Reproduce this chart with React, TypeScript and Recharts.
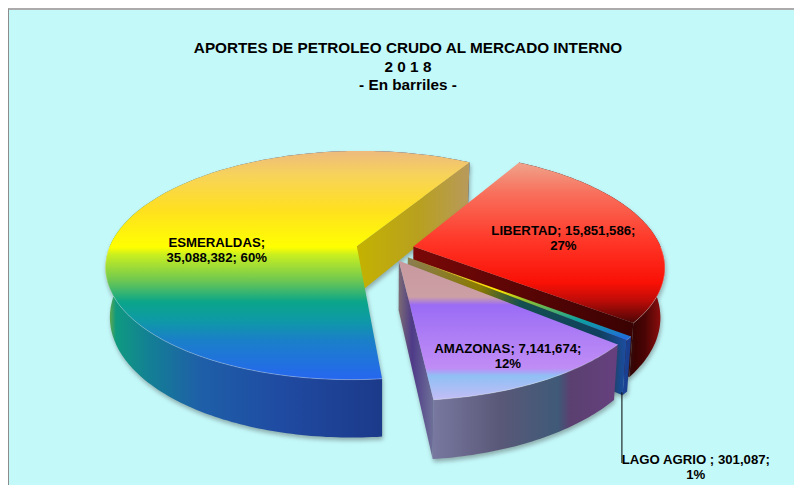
import React from "react";
import { PieChart, Pie } from "recharts";

const categories = ["ESMERALDAS", "LIBERTAD", "LAGO AGRIO ", "AMAZONAS"];
const barrels = [35088382, 15851586, 301087, 7141674];
const percents = ["60%", "27%", "1%", "12%"];

const W = 794;
const H = 485;
const CX = 385;
const CY = 249;
const RADIUS = 248;
const SQUASH = 0.452; // vertical squash of the disc
const PERSP = 0.167; // near edge looks bigger than far edge
const DEPTH = 48.5; // thickness of the pie
const CONVERGE = 0.016;
const EXPLODE = 0.117;

// colour stops are [screen y or x, colour]
const topStops: [number, string][][] = [
    [[150, "#EDB97F"], [175, "#F7D35A"], [210, "#FFE020"], [247, "#FFFF00"], [255, "#C8EE20"], [280, "#70C850"], [302, "#0AA58A"], [320, "#0E9AA5"], [340, "#1A80C8"], [380, "#2666F0"]],
    [[161, "#EFA68E"], [193, "#F8705C"], [243, "#FF3526"], [283, "#F91005"], [300, "#C00C08"], [323, "#4A0606"]],
    [[257, "#A89A5A"], [290, "#FFE800"], [300, "#90C030"], [320, "#0FA0A0"], [340, "#2266E0"]],
    [[262, "#C89AA0"], [297, "#CC9FA5"], [305, "#9A6CF5"], [340, "#B080F5"], [368, "#C08CF5"], [376, "#90C0F5"], [402, "#C8BDF5"]],
];
const wallStops: [number, string][][] = [
    [[106, "#8FB030"], [116, "#0F9A80"], [150, "#137F95"], [200, "#1E5FA8"], [280, "#1F4BA2"], [380, "#1C3A8A"]],
    [[625, "#2A0202"], [645, "#4A0404"], [664, "#9A1010"]],
    [[612, "#1E4FA5"], [630, "#1A3C8C"]],
    [[433, "#7878A0"], [500, "#5A5878"], [558, "#3F5A78"], [570, "#5A4070"], [616, "#66407E"]],
];
const cutStops: [number, string][][] = [
    [[357, "#C4B200"], [420, "#B8A020"], [468, "#B89A5A"]],
    [[414, "#7A0808"], [632, "#3A0202"]],
    [[408, "#8C7E50"], [480, "#8A7A00"], [520, "#145050"], [600, "#0F4060"], [630, "#1F4FA8"]],
    [[399, "#7A6A74"], [412, "#4E3A88"], [433, "#6E7098"]],
];
const labelOffsets = [[-140, 4], [150, -9], [288, 210], [109, 95]];

const data = categories.map((name, i) => ({ name, value: barrels[i] }));

const rad = (d: number) => (d * Math.PI) / 180;

// t is degrees clockwise from the top of the disc
const project = (t: number, r: number, mid: number, cx: number, cy: number, A: number) => {
    const u = r * Math.sin(rad(t)) + EXPLODE * Math.sin(rad(mid));
    const v = -r * Math.cos(rad(t)) - EXPLODE * Math.cos(rad(mid));
    const f = 1 / (1 - PERSP * v);
    const B = A * SQUASH;
    return {
        x: cx + A * u * f,
        y: cy + B * v * f,
        xb: cx + A * u * f * (1 - CONVERGE),
        yb: cy + (B * v + DEPTH) * f,
    };
};

const gradient = (id: string, stops: [number, string][], vertical: boolean) => {
    const a = stops[0][0];
    const b = stops[stops.length - 1][0];
    const coords = vertical ? { x1: 0, x2: 0, y1: a, y2: b } : { x1: a, x2: b, y1: 0, y2: 0 };
    return (
        <linearGradient id={id} gradientUnits="userSpaceOnUse" {...coords}>
            {stops.map(([p, c], i) => (
                <stop key={i} offset={(p - a) / (b - a)} stopColor={c} />
            ))}
        </linearGradient>
    );
};

const Slice = (props: any) => {
    const { cx, cy, outerRadius, startAngle, endAngle, index } = props;
    const t0 = 90 - startAngle;
    const t1 = 90 - endAngle;
    const mid = (t0 + t1) / 2;
    const at = (t: number, r = 1) => project(t, r, mid, cx, cy, outerRadius);
    const steps = Math.max(2, Math.ceil(t1 - t0));
    const arc = Array.from({ length: steps + 1 }, (_, i) => at(t0 + ((t1 - t0) * i) / steps));
    const apex = at(t0, 0);
    const first = arc[0];
    const last = arc[arc.length - 1];

    const topPts = arc.map((p) => `${p.x.toFixed(1)},${p.y.toFixed(1)}`);
    const botPts = [...arc].reverse().map((p) => `${p.xb.toFixed(1)},${p.yb.toFixed(1)}`);
    const top = `M${apex.x.toFixed(1)},${apex.y.toFixed(1)}L${topPts.join("L")}Z`;
    const wall = `M${topPts.join("L")}L${botPts.join("L")}Z`;
    // light edge only on the near part of the rim
    const rimPts = arc.filter((p) => p.y > apex.y).map((p) => `${p.x.toFixed(1)},${p.y.toFixed(1)}`);
    const cut = (p: typeof apex) => `M${apex.x},${apex.y}L${p.x},${p.y}L${p.xb},${p.yb}L${apex.xb},${apex.yb}Z`;

    return (
        <g style={{ filter: "drop-shadow(1px 3px 2px rgba(60,60,60,0.4))" }}>
            <defs>
                {gradient(`top${index}`, topStops[index], true)}
                {gradient(`wall${index}`, wallStops[index], false)}
                {gradient(`cut${index}`, cutStops[index], false)}
            </defs>
            <path d={wall} fill={`url(#wall${index})`} />
            {first.x < apex.x && <path d={cut(first)} fill={`url(#cut${index})`} />}
            {last.x > apex.x && <path d={cut(last)} fill={`url(#cut${index})`} />}
            <path d={top} fill={`url(#top${index})`} />
            {rimPts.length > 1 && <path d={`M${rimPts.join("L")}`} fill="none" stroke="#fff" strokeOpacity={0.3} />}
        </g>
    );
};

const textStyle = { fontFamily: "'Liberation Sans', Arial, sans-serif", fontWeight: 700, fontSize: 13.2, fill: "#000" };

const wrapped = (i: number) => {
    const amount = barrels[i].toLocaleString("en-US");
    if (i === 0) return [`${categories[i]};`, `${amount}; ${percents[i]}`];
    return [`${categories[i]}; ${amount};`, percents[i]];
};

const SliceLabel = (props: any) => {
    const { cx, cy, outerRadius, startAngle, endAngle, index } = props;
    if (startAngle === undefined) return null;
    const t0 = 90 - startAngle;
    const t1 = 90 - endAngle;
    const mid = (t0 + t1) / 2;
    const apex = project(t0, 0, mid, cx, cy, outerRadius);
    const [dx, dy] = labelOffsets[index];
    const x = apex.x + dx;
    const y = apex.y + dy;
    const lines = wrapped(index);
    const outer = project(mid, 1, mid, cx, cy, outerRadius);
    return (
        <g>
            {index === 2 && <line x1={outer.xb - 3} y1={outer.yb - 1} x2={outer.xb - 3} y2={463} stroke="#000" />}
            {lines.map((line, k) => (
                <text key={k} x={x} y={y + (k - 0.5) * 15 + 4.5} textAnchor="middle" style={textStyle}>
                    {line}
                </text>
            ))}
        </g>
    );
};

const titleLines = ["APORTES DE PETROLEO CRUDO AL MERCADO INTERNO", "2 0 1 8", "- En barriles -"];

export default function App() {
    return (
        <div style={{ position: "absolute", left: 0, top: 0, width: W, height: H, overflow: "hidden", background: "#fff" }}>
            <div style={{ position: "absolute", left: 8, top: 8, width: W, height: H, background: "#C4F9FA", borderLeft: "1px solid #8C8C8C", borderTop: "2px solid #ABABAB", boxSizing: "border-box" }} />
            <div style={{ position: "absolute", left: 108, top: 39, width: 600, textAlign: "center", fontFamily: "'Liberation Sans', Arial, sans-serif", fontWeight: 700, fontSize: 15.3, lineHeight: "18.5px", color: "#000" }}>
                {titleLines.map((line) => (
                    <div key={line}>{line}</div>
                ))}
            </div>
            <div style={{ position: "absolute", left: 0, top: 0 }}>
                <PieChart width={W} height={H} margin={{ top: 0, right: 0, bottom: 0, left: 0 }}>
                    <Pie
                        data={data}
                        dataKey="value"
                        nameKey="name"
                        cx={CX}
                        cy={CY}
                        innerRadius={0}
                        outerRadius={RADIUS}
                        startAngle={-84}
                        endAngle={-444}
                        stroke="none"
                        isAnimationActive={false}
                        shape={Slice}
                        label={SliceLabel}
                        labelLine={false}
                    />
                </PieChart>
            </div>
        </div>
    );
}
